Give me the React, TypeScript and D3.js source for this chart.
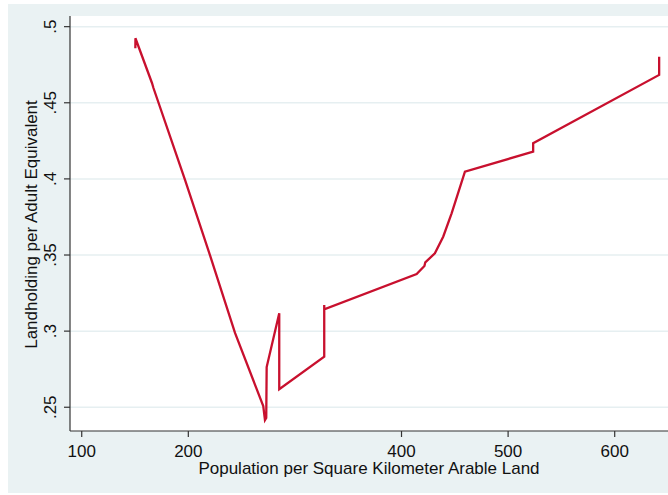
import React from "react";
import * as d3 from "d3";

// Population density (people per km² of arable land) and landholding per adult equivalent
const popDensity = [
  150.3, 150.4, 165.9, 167.3, 196.9, 220.3, 243.8, 270.3, 271.9, 273.1, 273.5,
  285.3, 285.3, 327.5, 327.5, 327.5, 414.2, 421.5, 422.3, 431.3, 439.1, 447.0,
  459.5, 523.5, 523.5, 641.7, 641.7,
];
const landholding = [
  0.4858, 0.4924, 0.463, 0.4597, 0.3993, 0.35, 0.2988, 0.2508, 0.2416, 0.243,
  0.2764, 0.3117, 0.2618, 0.2832, 0.3171, 0.3143, 0.3375, 0.3428, 0.3452,
  0.3511, 0.362, 0.3774, 0.4047, 0.4179, 0.4234, 0.4683, 0.4803,
];

const xTicks = [100, 200, 400, 500, 600];
const yTicks = [0.25, 0.3, 0.35, 0.4, 0.45, 0.5];
const yTickLabels = [".25", ".3", ".35", ".4", ".45", ".5"];

const W = 668;
const H = 495;
const plot = { left: 70, right: 668, top: 16, bottom: 431 };
const FONT = "'Liberation Sans', Arial, sans-serif";
const FS = 17;

export default function App() {
  const x = d3.scaleLinear().domain([89, 650]).range([plot.left, plot.right]);
  const y = d3.scaleLinear().domain([0.2344, 0.507]).range([plot.bottom, plot.top]);

  const pts: [number, number][] = popDensity.map((d, i) => [d, landholding[i]]);
  const line = d3
    .line<[number, number]>()
    .x((d) => x(d[0]))
    .y((d) => y(d[1]));

  const cx = (plot.left + plot.right) / 2;
  const cy = (plot.top + plot.bottom) / 2;

  return (
    <svg
      width={W}
      height={H}
      style={{ position: "absolute", left: 0, top: 0, fontFamily: FONT }}
    >
      <rect x={0} y={0} width={W} height={H} fill="#ffffff" />
      <rect x={8} y={4} width={W - 8} height={489} fill="#eaf2f3" />
      <rect
        x={plot.left}
        y={plot.top}
        width={plot.right - plot.left}
        height={plot.bottom - plot.top}
        fill="#ffffff"
      />
      {yTicks.map((t) => (
        <line
          key={"g" + t}
          x1={plot.left}
          x2={plot.right}
          y1={y(t)}
          y2={y(t)}
          stroke="#e6eff1"
          strokeWidth={1.5}
        />
      ))}
      <path
        d={line(pts) || ""}
        fill="none"
        stroke="#c8102e"
        strokeWidth={2.3}
        strokeLinejoin="miter"
      />
      {/* axes */}
      <line x1={plot.left} x2={plot.left} y1={plot.top} y2={plot.bottom} stroke="#333" strokeWidth={1.2} />
      <line x1={plot.left} x2={plot.right} y1={plot.bottom} y2={plot.bottom} stroke="#333" strokeWidth={1.2} />
      {yTicks.map((t, i) => (
        <g key={"y" + t}>
          <line x1={plot.left - 6} x2={plot.left} y1={y(t)} y2={y(t)} stroke="#333" strokeWidth={1.2} />
          <text
            transform={`translate(56,${y(t)}) rotate(-90)`}
            textAnchor="middle"
            fontSize={FS}
            fill="#111"
          >
            {yTickLabels[i]}
          </text>
        </g>
      ))}
      {xTicks.map((t) => (
        <g key={"x" + t}>
          <line x1={x(t)} x2={x(t)} y1={plot.bottom} y2={plot.bottom + 6} stroke="#333" strokeWidth={1.2} />
          <text x={x(t)} y={457} textAnchor="middle" fontSize={FS} fill="#111">
            {t}
          </text>
        </g>
      ))}
      <text x={cx} y={474} textAnchor="middle" fontSize={FS} fill="#111">
        Population per Square Kilometer Arable Land
      </text>
      <text
        transform={`translate(37,${cy + 1}) rotate(-90)`}
        textAnchor="middle"
        fontSize={FS}
        fill="#111"
      >
        Landholding per Adult Equivalent
      </text>
    </svg>
  );
}
